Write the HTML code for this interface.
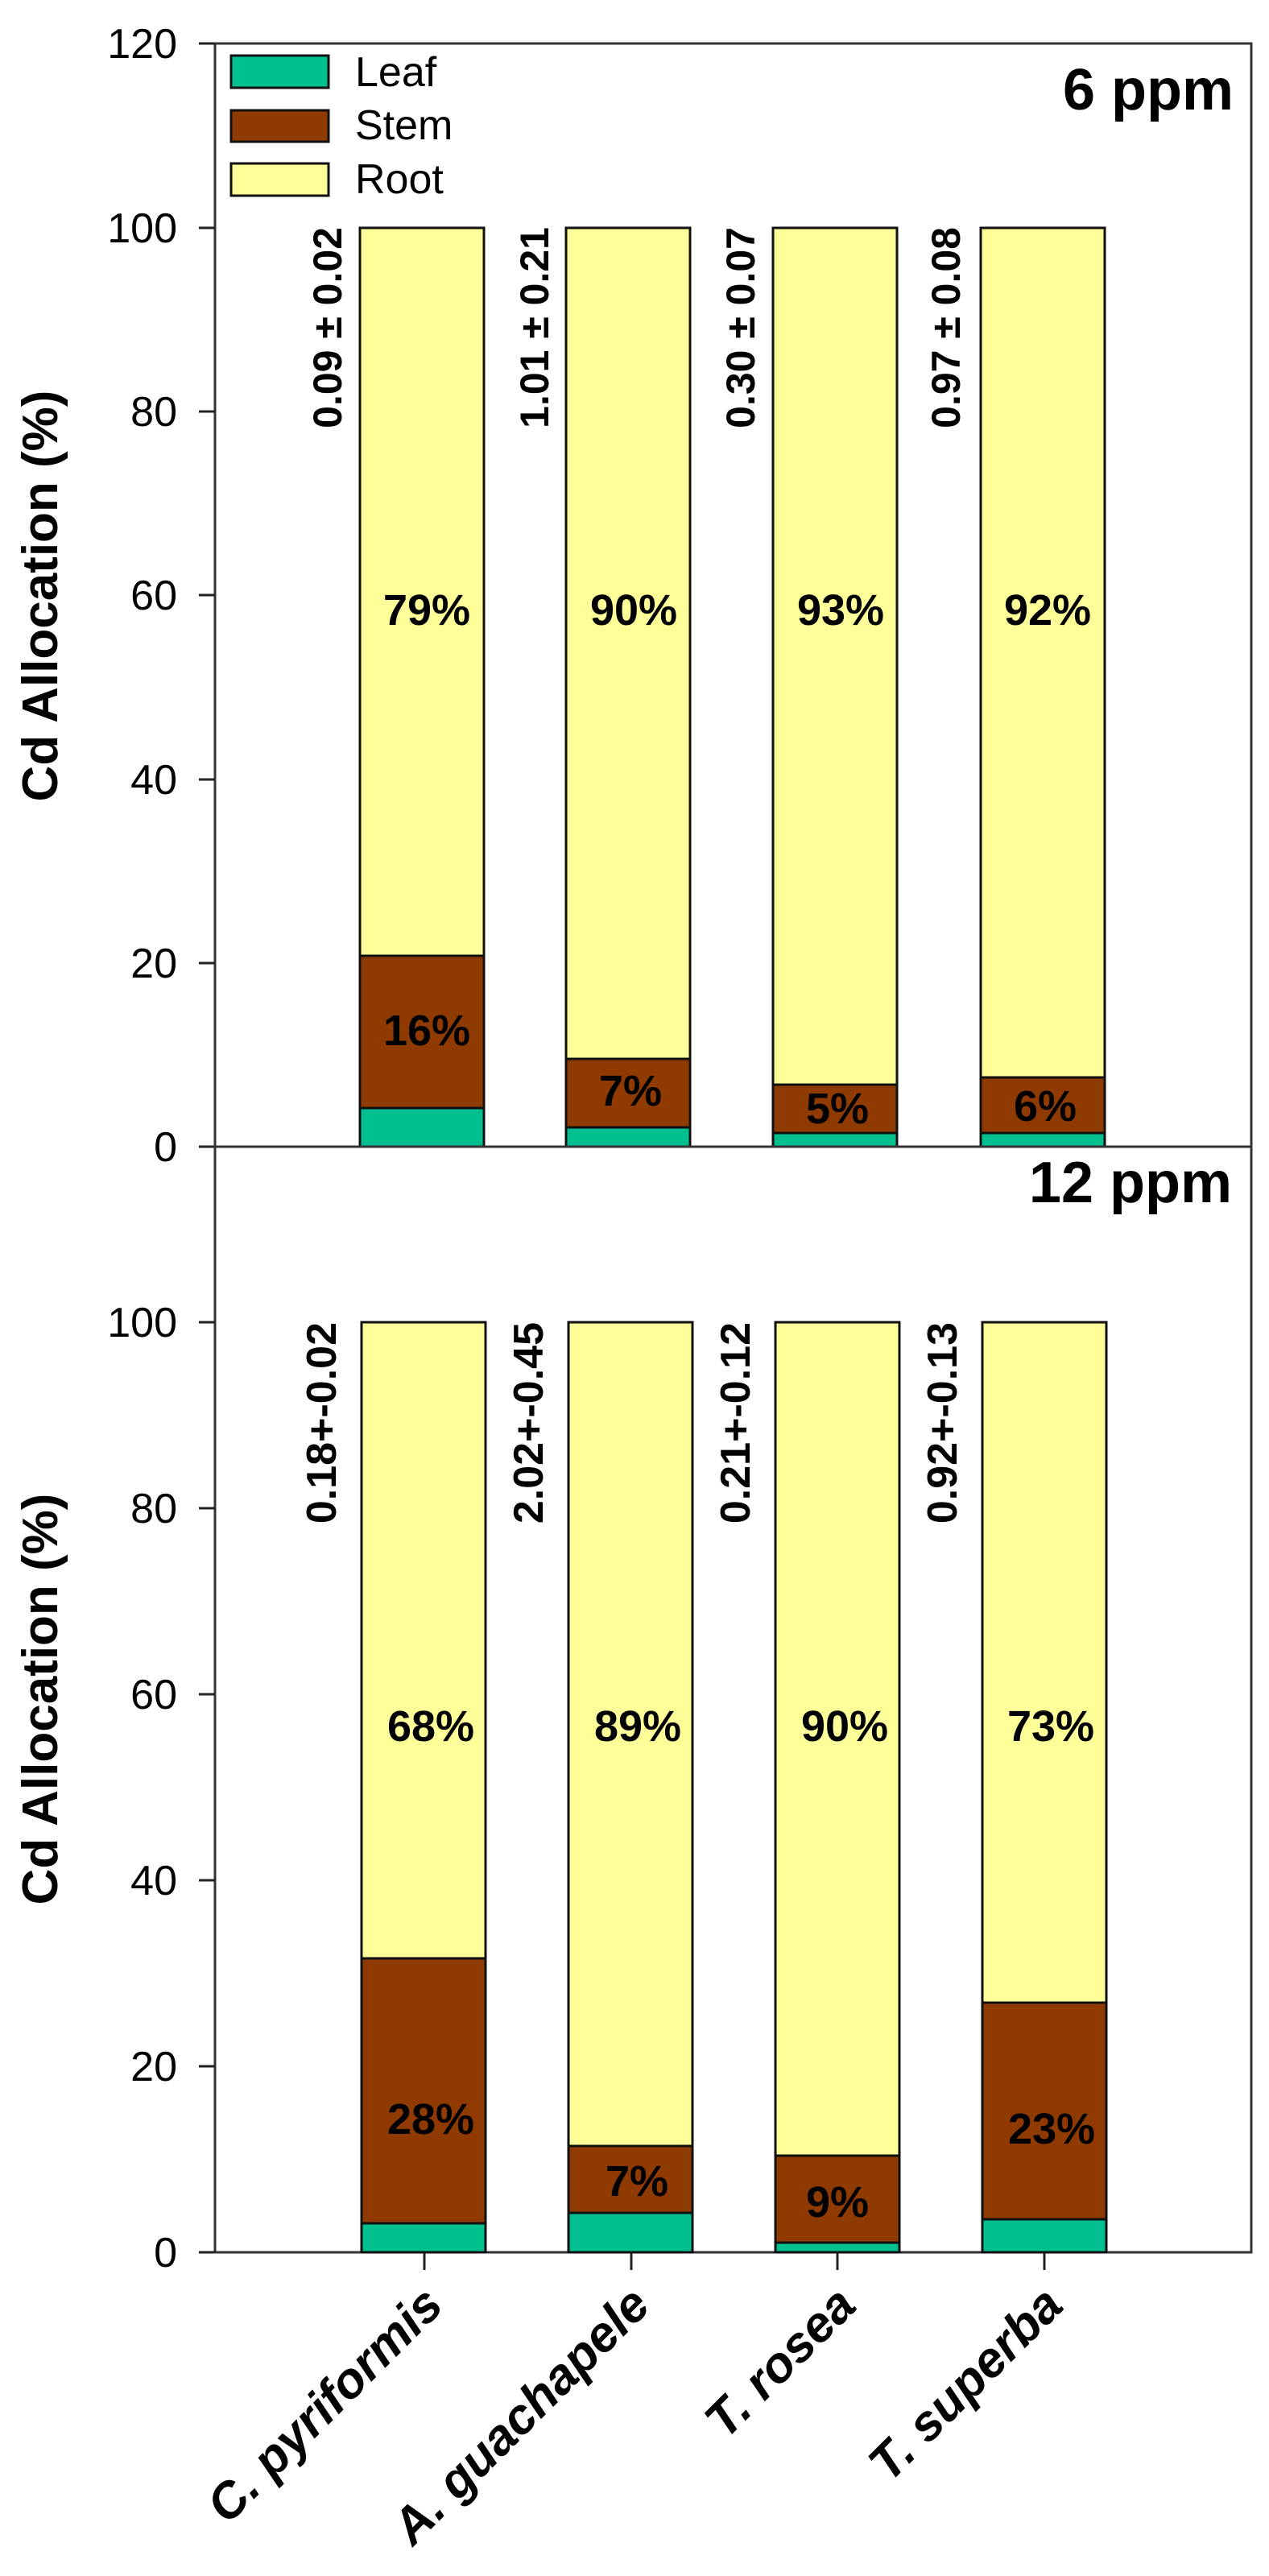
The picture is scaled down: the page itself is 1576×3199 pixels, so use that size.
<!DOCTYPE html>
<html><head><meta charset="utf-8"><style>
html,body{margin:0;padding:0;background:#fff;}
svg{display:block;}
text{font-family:"Liberation Sans",Arial,sans-serif;fill:#000;}
.t{font-size:52px;}
.b{font-weight:bold;}
</style></head><body>
<svg width="1576" height="3199" viewBox="0 0 1576 3199" xmlns="http://www.w3.org/2000/svg">
<!-- TOP PANEL -->
<rect x="267" y="54" width="1287" height="1370" fill="#fff" stroke="#333" stroke-width="3"/>
<g stroke="#222" stroke-width="3">
<line x1="247" y1="54" x2="267" y2="54"/>
<line x1="247" y1="283" x2="267" y2="283"/>
<line x1="247" y1="511" x2="267" y2="511"/>
<line x1="247" y1="739" x2="267" y2="739"/>
<line x1="247" y1="968" x2="267" y2="968"/>
<line x1="247" y1="1196" x2="267" y2="1196"/>
<line x1="247" y1="1424" x2="267" y2="1424"/>
</g>
<g class="t" text-anchor="end">
<text x="220" y="72">120</text>
<text x="220" y="301">100</text>
<text x="220" y="529">80</text>
<text x="220" y="757">60</text>
<text x="220" y="986">40</text>
<text x="220" y="1214">20</text>
<text x="220" y="1442">0</text>
</g>
<text class="b" font-size="62" text-anchor="middle" transform="translate(71,740) rotate(-90)">Cd Allocation (%)</text>
<!-- legend -->
<rect x="287" y="69" width="121" height="40" fill="#00C08F" stroke="#111" stroke-width="3"/>
<rect x="287" y="137" width="121" height="39" fill="#8F3A00" stroke="#111" stroke-width="3"/>
<rect x="287" y="203" width="121" height="40" fill="#FFFF99" stroke="#111" stroke-width="3"/>
<text class="t" x="441" y="107">Leaf</text>
<text class="t" x="441" y="173">Stem</text>
<text class="t" x="441" y="240">Root</text>
<text class="b" font-size="72" text-anchor="end" x="1532" y="136">6 ppm</text>
<g stroke="#111" stroke-width="3">
<rect x="447" y="283" width="154" height="904" fill="#FFFF99"/>
<rect x="447" y="1187" width="154" height="189" fill="#8F3A00"/>
<rect x="447" y="1376" width="154" height="48" fill="#00C08F"/>
<rect x="703" y="283" width="154" height="1032" fill="#FFFF99"/>
<rect x="703" y="1315" width="154" height="85" fill="#8F3A00"/>
<rect x="703" y="1400" width="154" height="24" fill="#00C08F"/>
<rect x="960" y="283" width="154" height="1064" fill="#FFFF99"/>
<rect x="960" y="1347" width="154" height="60" fill="#8F3A00"/>
<rect x="960" y="1407" width="154" height="17" fill="#00C08F"/>
<rect x="1218" y="283" width="154" height="1055" fill="#FFFF99"/>
<rect x="1218" y="1338" width="154" height="69" fill="#8F3A00"/>
<rect x="1218" y="1407" width="154" height="17" fill="#00C08F"/>
</g>
<g class="b" font-size="54" text-anchor="middle">
<text x="530" y="776">79%</text>
<text x="787" y="776">90%</text>
<text x="1044" y="776">93%</text>
<text x="1301" y="776">92%</text>
<text x="530" y="1298">16%</text>
<text x="783" y="1373">7%</text>
<text x="1040" y="1395">5%</text>
<text x="1298" y="1392">6%</text>
</g>
<g class="b" font-size="50" text-anchor="end">
<text transform="translate(424,282) rotate(-90)">0.09 ± 0.02</text>
<text transform="translate(681,282) rotate(-90)">1.01 ± 0.21</text>
<text transform="translate(937,282) rotate(-90)">0.30 ± 0.07</text>
<text transform="translate(1192,282) rotate(-90)">0.97 ± 0.08</text>
</g>

<!-- BOTTOM PANEL -->
<rect x="267" y="1424" width="1287" height="1373" fill="none" stroke="#333" stroke-width="3"/>
<g stroke="#222" stroke-width="3">
<line x1="247" y1="1642" x2="267" y2="1642"/>
<line x1="247" y1="1873" x2="267" y2="1873"/>
<line x1="247" y1="2104" x2="267" y2="2104"/>
<line x1="247" y1="2335" x2="267" y2="2335"/>
<line x1="247" y1="2566" x2="267" y2="2566"/>
<line x1="247" y1="2797" x2="267" y2="2797"/>
<line x1="527" y1="2797" x2="527" y2="2819"/>
<line x1="784" y1="2797" x2="784" y2="2819"/>
<line x1="1040" y1="2797" x2="1040" y2="2819"/>
<line x1="1297" y1="2797" x2="1297" y2="2819"/>
</g>
<g class="t" text-anchor="end">
<text x="220" y="1660">100</text>
<text x="220" y="1891">80</text>
<text x="220" y="2122">60</text>
<text x="220" y="2353">40</text>
<text x="220" y="2584">20</text>
<text x="220" y="2815">0</text>
</g>
<text class="b" font-size="62" text-anchor="middle" transform="translate(71,2110) rotate(-90)">Cd Allocation (%)</text>
<text class="b" font-size="72" text-anchor="end" x="1530" y="1493">12 ppm</text>
<g stroke="#111" stroke-width="3">
<rect x="449" y="1642" width="154" height="790" fill="#FFFF99"/>
<rect x="449" y="2432" width="154" height="329" fill="#8F3A00"/>
<rect x="449" y="2761" width="154" height="36" fill="#00C08F"/>
<rect x="706" y="1642" width="154" height="1023" fill="#FFFF99"/>
<rect x="706" y="2665" width="154" height="83" fill="#8F3A00"/>
<rect x="706" y="2748" width="154" height="49" fill="#00C08F"/>
<rect x="963" y="1642" width="154" height="1035" fill="#FFFF99"/>
<rect x="963" y="2677" width="154" height="108" fill="#8F3A00"/>
<rect x="963" y="2785" width="154" height="12" fill="#00C08F"/>
<rect x="1220" y="1642" width="154" height="845" fill="#FFFF99"/>
<rect x="1220" y="2487" width="154" height="269" fill="#8F3A00"/>
<rect x="1220" y="2756" width="154" height="41" fill="#00C08F"/>
</g>
<g class="b" font-size="54" text-anchor="middle">
<text x="535" y="2162">68%</text>
<text x="792" y="2162">89%</text>
<text x="1049" y="2162">90%</text>
<text x="1305" y="2162">73%</text>
<text x="535" y="2650">28%</text>
<text x="791" y="2727">7%</text>
<text x="1040" y="2753">9%</text>
<text x="1306" y="2662">23%</text>
</g>
<g class="b" font-size="62" font-style="italic" text-anchor="end">
<text transform="translate(553,2866) rotate(-45)">C. pyriformis</text>
<text transform="translate(810,2866) rotate(-45)">A. guachapele</text>
<text transform="translate(1066,2866) rotate(-45)">T. rosea</text>
<text transform="translate(1323,2866) rotate(-45)">T. superba</text>
</g>
<g class="b" font-size="52" text-anchor="end">
<text transform="translate(417,1642) rotate(-90)">0.18+-0.02</text>
<text transform="translate(674,1642) rotate(-90)">2.02+-0.45</text>
<text transform="translate(931,1642) rotate(-90)">0.21+-0.12</text>
<text transform="translate(1188,1642) rotate(-90)">0.92+-0.13</text>
</g>
</svg>
</body></html>
